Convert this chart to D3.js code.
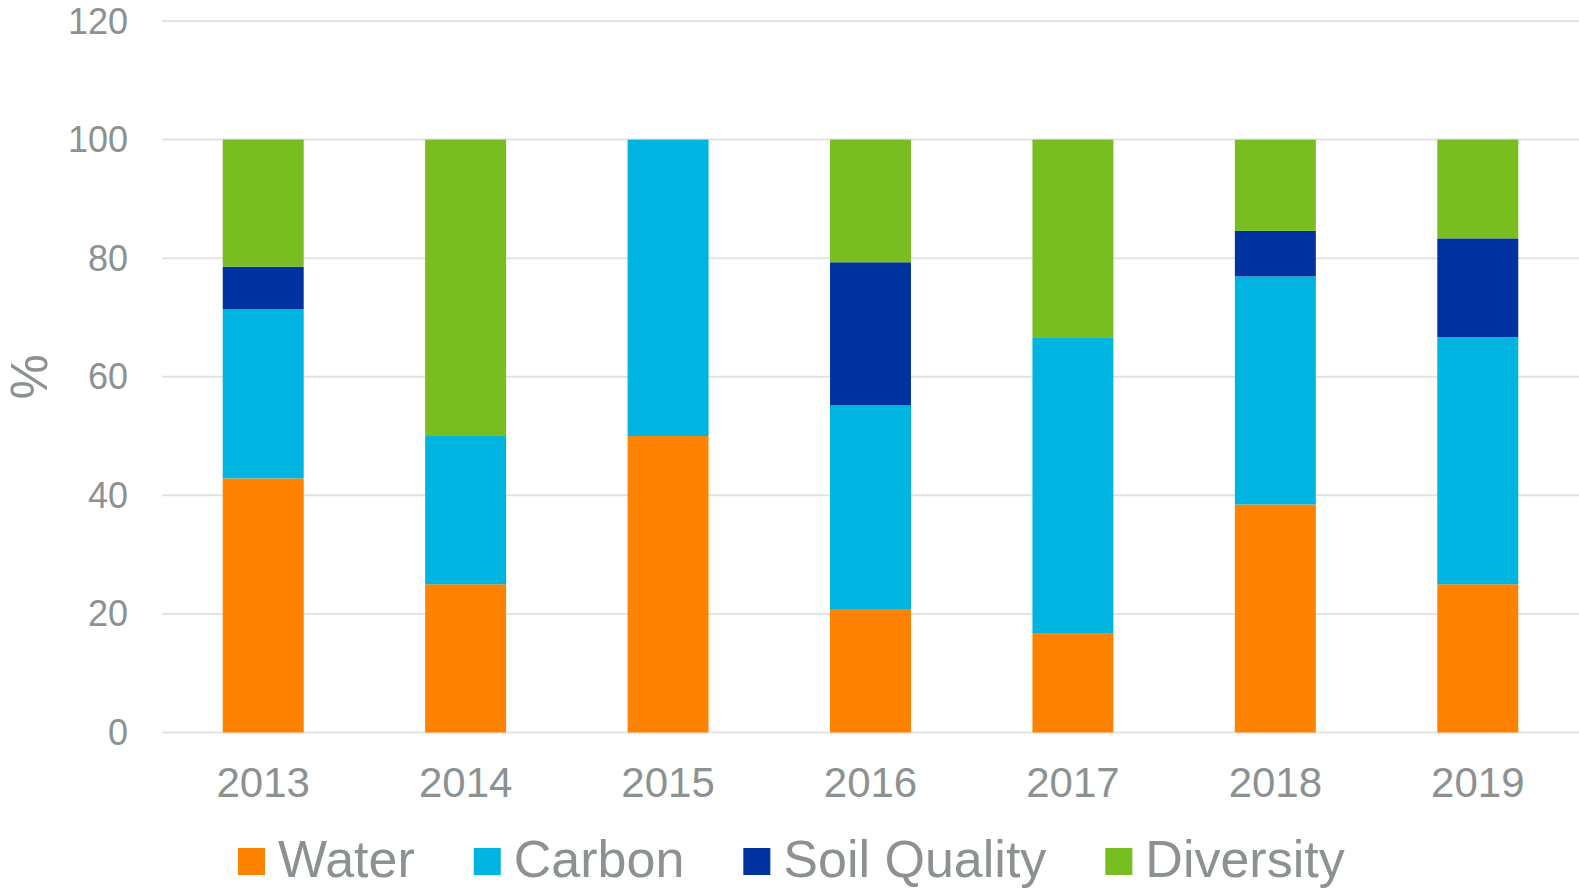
<!DOCTYPE html>
<html>
<head>
<meta charset="utf-8">
<script src="https://cdn.jsdelivr.net/npm/d3@7"></script>
<style>
  html, body { margin: 0; padding: 0; background: #ffffff; }
  svg { display: block; }
  text { font-family: "Liberation Sans", Arial, sans-serif; fill: #8C9191; }
</style>
</head>
<body>
<svg id="chart" width="1579" height="889"></svg>
<script>
// ---- data ----
const years = ["2013", "2014", "2015", "2016", "2017", "2018", "2019"];
const seriesNames = ["Water", "Carbon", "Soil Quality", "Diversity"];
const water     = [42.86, 25, 50, 20.69, 16.67, 38.46, 25];
const carbon    = [28.57, 25, 50, 34.48, 50, 38.46, 41.67];
const soil      = [7.14, 0, 0, 24.14, 0, 7.69, 16.67];
const diversity = [21.43, 50, 0, 20.69, 33.33, 15.38, 16.67];
const yTicks = [0, 20, 40, 60, 80, 100, 120];
const colors = ["#FF8200", "#00B4E1", "#0033A0", "#78BE20"];

// ---- layout ----
const svg = d3.select("#chart");
const plotLeft = 162, plotRight = 1579, plotTop = 21, plotBottom = 732.5;

const x = d3.scaleBand().domain(years).range([plotLeft, plotRight]).paddingInner(0.6).paddingOuter(0.3);
const y = d3.scaleLinear().domain([0, 120]).range([plotBottom, plotTop]);

const rows = years.map((yr, i) => ({
  year: yr, Water: water[i], Carbon: carbon[i], "Soil Quality": soil[i], Diversity: diversity[i]
}));
const stacked = d3.stack().keys(seriesNames)(rows);
const color = d3.scaleOrdinal().domain(seriesNames).range(colors);

// gridlines
svg.append("g").selectAll("line").data(yTicks).join("line")
  .attr("x1", plotLeft).attr("x2", plotRight)
  .attr("y1", d => y(d)).attr("y2", d => y(d))
  .attr("stroke", "#E3E3E3").attr("stroke-width", 2);

// y tick labels
svg.append("g").selectAll("text").data(yTicks).join("text")
  .attr("x", 128).attr("y", d => y(d)).attr("dy", 12.5)
  .attr("text-anchor", "end").attr("font-size", 36)
  .text(d => d);

// y axis title
svg.append("text")
  .attr("transform", `translate(${47},${(plotTop + plotBottom) / 2}) rotate(-90)`)
  .attr("text-anchor", "middle").attr("font-size", 51)
  .text("%");

// bars
svg.append("g").selectAll("g").data(stacked).join("g")
  .attr("fill", d => color(d.key))
  .selectAll("rect").data(d => d).join("rect")
  .attr("x", d => x(d.data.year))
  .attr("width", x.bandwidth())
  .attr("y", d => y(d[1]))
  .attr("height", d => Math.max(0, y(d[0]) - y(d[1])));

// x labels
svg.append("g").selectAll("text").data(years).join("text")
  .attr("x", d => x(d) + x.bandwidth() / 2).attr("y", 797)
  .attr("text-anchor", "middle").attr("font-size", 42)
  .text(d => d);

// legend
const lg = svg.append("g");
let cx = 238;
seriesNames.forEach((name, i) => {
  lg.append("rect").attr("x", cx).attr("y", 848).attr("width", 27).attr("height", 27)
    .attr("fill", colors[i]);
  const t = lg.append("text").attr("x", cx + 40).attr("y", 877)
    .attr("font-size", 52).text(name);
  cx += 40 + t.node().getComputedTextLength() + 59;
});
</script>
</body>
</html>
